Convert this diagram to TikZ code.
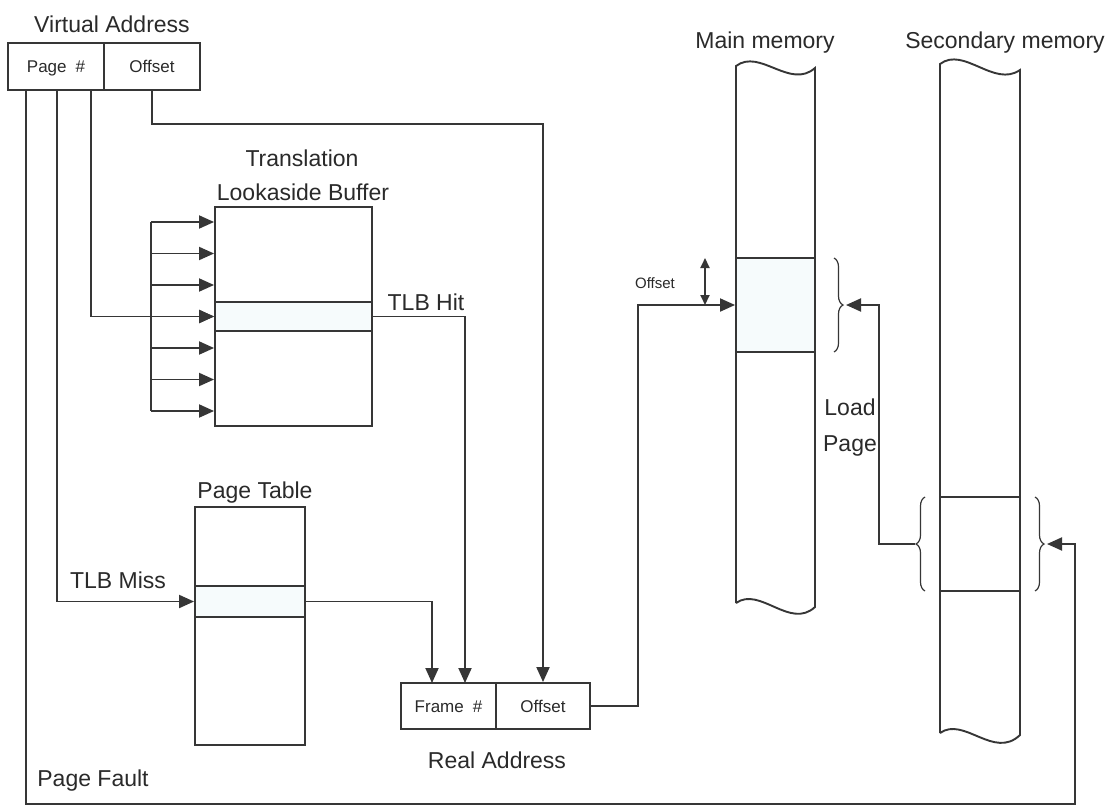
\documentclass[tikz,border=0pt]{standalone}
\usepackage{fontspec}
\setmainfont{Liberation Sans}
\usetikzlibrary{arrows.meta,decorations.pathreplacing,calc}
\definecolor{ink}{HTML}{363636}
\definecolor{txt}{HTML}{2A2A2A}
\definecolor{hl}{HTML}{F6FBFC}
\begin{document}
\begin{tikzpicture}[x=1pt,y=-1pt,
  lbl/.style={text=txt, font=\fontsize{23}{26}\selectfont, inner sep=0pt, text height=16.5pt, text depth=0pt},
  sm/.style={text=txt, font=\fontsize{17}{20}\selectfont, inner sep=0pt, text height=12pt, text depth=0pt},
  tiny/.style={text=txt, font=\fontsize{15}{18}\selectfont, inner sep=0pt, text height=11pt, text depth=0pt},
  cell/.style={draw=ink, line width=1.9pt, inner sep=0pt},
  ln/.style={draw=ink, line width=1.9pt},
  arr/.style={draw=ink, line width=1.9pt, -{Triangle[length=15pt,width=13pt]}},
  darr/.style={draw=ink, line width=1.9pt, {Triangle[length=10pt,width=9pt]}-{Triangle[length=10pt,width=9pt]}},
  brc/.style={draw=ink, line width=1.2pt, decorate, decoration={brace, amplitude=9pt}},
  mem/.style={draw=ink, line width=1.9pt}]
\useasboundingbox (0,0) rectangle (1108,808);
\fill[white] (0,0) rectangle (1108,808);

% ---------- Virtual address ----------
\node[lbl] (vaL) at (112,24.5) {Virtual Address};
\node[cell, minimum width=96pt, minimum height=47pt] (vapage) at (56,66.5) {};
\node[cell, minimum width=96pt, minimum height=47pt] (vaoff) at (152,66.5) {};
\node[sm] (vapageT) at (vapage.center) {Page\hspace{9pt}\#};
\node[sm] (vaoffT) at (vaoff.center) {Offset};

% ---------- TLB ----------
\node[lbl] (tlbL1) at (302,158) {Translation};
\node[lbl] (tlbL2) at (303,192) {Lookaside Buffer};
\node[cell, minimum width=157pt, minimum height=219pt] (tlb) at (293.5,316.5) {};
\node[cell, fill=hl, minimum width=157pt, minimum height=29pt] (tlbrow) at (293.5,316.5) {};
\node[lbl] (hitL) at (426,302) {TLB Hit};

% ---------- Page table ----------
\node[lbl] (ptL) at (255,490) {Page Table};
\node[cell, minimum width=110pt, minimum height=238pt] (pt) at (250,626) {};
\node[cell, fill=hl, minimum width=110pt, minimum height=31pt] (ptrow) at (250,601.5) {};
\node[lbl] (missL) at (118,580) {TLB Miss};

% ---------- Real address ----------
\node[cell, minimum width=95pt, minimum height=46pt] (rafr) at (448.5,706) {};
\node[cell, minimum width=94pt, minimum height=46pt] (raoff) at (543,706) {};
\node[sm] (rafrT) at (rafr.center) {Frame\hspace{9pt}\#};
\node[sm] (raoffT) at (raoff.center) {Offset};
\node[lbl] (raL) at (497,760) {Real Address};

\node[lbl] (pfL) at (93,778) {Page Fault};

% ---------- Main memory ----------
\node[lbl] (mmL) at (765,40) {Main memory};
\draw[mem] (736,603) -- (736,66) .. controls (760,48) and (790,90) .. (815,68)
  -- (815,607) .. controls (790,630) and (760,586) .. (736,603);
\node[cell, fill=hl, minimum width=79pt, minimum height=94pt] (mmblk) at (775.5,305) {};
\draw[brc] (834,258) -- (834,352);
\coordinate (mmbr) at (846,305);
\coordinate (offA) at (705,258);
\coordinate (offB) at (705,305);
\draw[darr] (offA) -- (offB);
\node[tiny] (offL) at (655,283) {Offset};

% ---------- Secondary memory ----------
\node[lbl] (smL) at (1005,40) {Secondary memory};
\draw[mem] (940,733) -- (940,64) .. controls (964,46) and (994,88) .. (1020,70)
  -- (1020,735) .. controls (994,760) and (964,716) .. (940,733);
\node[cell, minimum width=80pt, minimum height=94pt] (smblk) at (980,544) {};
\draw[brc] (925,591) -- (925,497);
\draw[brc] (1035,497) -- (1035,591);
\coordinate (smbrL) at (915,544);
\coordinate (smbrR) at (1047,544);
\node[lbl] (loadL) at (850,407) {Load};
\node[lbl] (pageL) at (850,443) {Page};

% ---------- connectors ----------
\coordinate (pA) at (26,90);
\coordinate (pB) at (57,90);
\coordinate (pC) at (91,90);
\coordinate (offy) at (0,124);
\coordinate (pfc) at (1075,804);
\coordinate (hitIn) at (465,683);
\coordinate (ptIn) at (432,683);
\coordinate (rx) at (638,706);
\coordinate (lpc) at (879,305);

% offset of virtual address to offset of real address
\draw[arr] (vaoff.south) -- (vaoff.south |- offy) -| (raoff.north);
% page fault path
\draw[arr] (pA) |- (pfc) |- (smbrR);
% TLB miss
\draw[arr] (pB) |- (ptrow.west);
% page number into TLB
\draw[arr] (pC) |- (tlbrow.west);
% TLB bus
\foreach \i/\yy in {1/222,2/253.5,3/285,4/316.5,5/348,6/379.5,7/411}
  \coordinate (bus\i) at (151,\yy);
\draw[ln] (bus1) -- (bus7);
\foreach \i in {1,...,7}
  \draw[arr] (bus\i) -- (tlb.west |- bus\i);
% TLB hit
\draw[arr] (tlbrow.east) -| (hitIn);
% page table to frame
\draw[arr] (ptrow.east) -| (ptIn);
% real address to main memory
\draw[arr] (raoff.east) -- (rx) |- (mmblk.west);
% load page
\draw[arr] (smbrL) -| (lpc) -- (mmbr);
\end{tikzpicture}
\end{document}
